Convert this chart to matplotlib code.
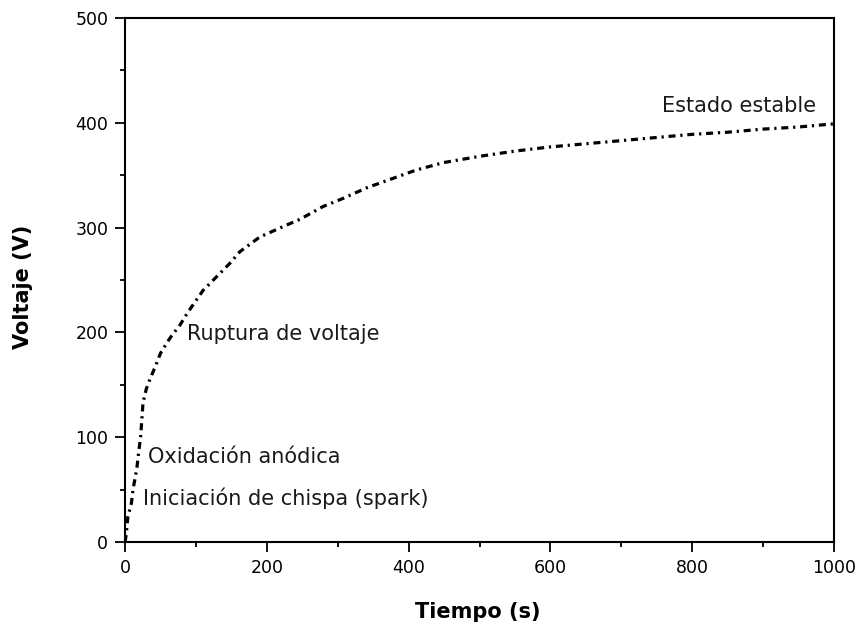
import matplotlib
matplotlib.use("Agg")
import matplotlib.pyplot as plt
from matplotlib.ticker import MultipleLocator

# Data
time_s = [0, 1, 2, 4, 9, 11.3, 14.5, 17, 19.3, 22, 24, 25.4, 30, 35, 43.7, 50,
          59, 66, 77.5, 87.5, 98.7, 110, 129, 148, 162, 190, 223, 247, 279,
          308, 341, 374, 411, 449, 500, 550, 600, 650, 700, 750, 800, 850,
          900, 950, 1000]
voltage_v = [0, 4, 9, 24, 37, 50, 62, 72, 86, 100, 119, 133, 146, 155, 169, 180,
             190, 197, 207, 218, 229, 240, 253, 266, 277, 291, 301, 308, 320,
             328, 338, 346, 355, 362, 368, 373, 377, 380, 383, 386, 389, 391,
             394, 396, 399]

x_ticks = [0, 200, 400, 600, 800, 1000]
y_ticks = [0, 100, 200, 300, 400, 500]

annotations = [
    ("Estado estable", 757, 410),
    ("Ruptura de voltaje", 87, 193),
    ("Oxidación anódica", 32.4, 75.4),
    ("Iniciación de chispa (spark)", 25.4, 35.3),
]

plt.rcParams['font.family'] = ['DejaVu Sans']

fig = plt.figure(figsize=(8.59, 6.26), dpi=100)
ax = fig.add_axes([125/859, 84/626, 709/859, 524/626])

ax.plot(time_s, voltage_v, color='black', lw=2.3,
        linestyle=(0, (2.2, 1.5, 0.7, 1.5)), solid_capstyle='butt',
        dash_capstyle='butt')

ax.set_xlim(0, 1000)
ax.set_ylim(0, 500)
ax.set_xticks(x_ticks)
ax.set_yticks(y_ticks)
ax.xaxis.set_minor_locator(MultipleLocator(100))
ax.yaxis.set_minor_locator(MultipleLocator(50))

for s in ax.spines.values():
    s.set_linewidth(1.5)
ax.tick_params(axis='both', which='major', direction='out', length=7, width=1.3,
               labelsize=12.5, pad=5, colors='black')
ax.tick_params(axis='both', which='minor', direction='out', length=3.5, width=1.3)
ax.tick_params(top=False, right=False, which='both')

ax.set_xlabel("Tiempo (s)", fontsize=15, fontweight='bold')
ax.set_ylabel("Voltaje (V)", fontsize=15, fontweight='bold')
ax.xaxis.set_label_coords(0.498, -0.1145)
ax.yaxis.set_label_coords(-0.130, 0.487)

for txt, x, y in annotations:
    ax.text(x, y, txt, fontsize=15, ha='left', va='baseline', color='#1a1a1a')

fig.savefig("out.png", dpi=100)
